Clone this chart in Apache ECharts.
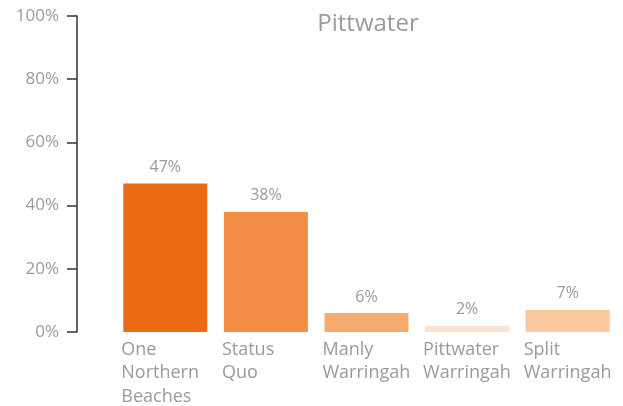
<!DOCTYPE html>
<html>
<head>
<meta charset="utf-8">
<script src="https://cdn.jsdelivr.net/npm/echarts@6/dist/echarts.min.js"></script>
<style>
  html, body { margin: 0; padding: 0; background: #fff; }
  #chart { width: 623px; height: 406px; }
</style>
</head>
<body>
<div id="chart"></div>
<script>
const categories = ['One\nNorthern\nBeaches', 'Status\nQuo', 'Manly\nWarringah', 'Pittwater\nWarringah', 'Split\nWarringah']
const values = [47, 38, 6, 2, 7]
const barColors = ['#ec6a11', '#f18d44', '#f6ab71', '#fde3cf', '#f9c89f']
const yTicks = [0, 20, 40, 60, 80, 100]

const grey = '#9a9a9a'
const font = '"Open Sans", "Noto Sans", sans-serif'

const chart = echarts.init(document.getElementById('chart'))
chart.setOption({
  animation: false,
  title: {
    text: 'Pittwater',
    left: 363,
    textAlign: 'center',
    top: 7,
    textStyle: { color: grey, fontFamily: font, fontWeight: 'normal', fontSize: 24 }
  },
  grid: { left: 115, right: 5, top: 16, bottom: 74 },
  xAxis: {
    type: 'category',
    data: categories,
    axisLine: { show: false },
    axisTick: { show: false },
    axisLabel: {
      margin: 6,
      formatter: v => v.split('\n').map(s => '{a|' + s + '}').join('\n'),
      rich: {
        a: { width: 88, align: 'left', color: grey, fontFamily: font, fontSize: 18, lineHeight: 23.5 }
      }
    }
  },
  yAxis: {
    type: 'value',
    min: 0,
    max: 100,
    interval: 20,
    offset: 38,
    splitLine: { show: false },
    axisLine: { show: true, lineStyle: { color: '#333', width: 1.5 } },
    axisTick: { show: true, length: 10, lineStyle: { color: '#333', width: 1.5 } },
    axisLabel: {
      margin: 18,
      color: grey,
      fontFamily: font,
      fontSize: 17,
      formatter: v => yTicks.includes(v) ? v + '%' : ''
    }
  },
  series: [{
    type: 'bar',
    barWidth: 84,
    data: values.map((v, i) => ({ value: v, itemStyle: { color: barColors[i] } })),
    label: {
      show: true,
      position: 'top',
      distance: 8,
      formatter: '{c}%',
      color: grey,
      fontFamily: font,
      fontSize: 16
    }
  }]
})
</script>
</body>
</html>
